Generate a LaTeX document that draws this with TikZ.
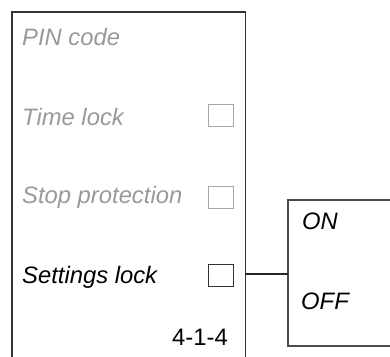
\documentclass[tikz,border=0pt]{standalone}
\usepackage{fontspec}
\setmainfont{Liberation Sans}
\begin{document}
\begin{tikzpicture}[x=1pt,y=-1pt,
  lbl/.style={anchor=base west,inner sep=0pt,font=\fontsize{23.8}{27}\selectfont\itshape},
  dim/.style={text=black!40},
  chk/.style={draw=black!35,line width=1.3pt,minimum width=25pt,minimum height=22pt,inner sep=0pt,anchor=north west},
  frame/.style={draw=black!80,line width=1.5pt},
  thinframe/.style={draw=black!70,line width=1.2pt}]
\useasboundingbox (0,0) rectangle (390,356);
\draw[frame] (12,357) -- (12,12) -- (245.5,12) -- (245.5,357);
\draw[thinframe] (391,200) -- (288,200) -- (288,346) -- (391,346);
\node[lbl,dim] (pin) at (22,45) {PIN code};
\node[lbl,dim] (time) at (22,125) {Time lock};
\node[lbl,dim] (stop) at (22,203) {Stop protection};
\node[lbl] (set) at (22,283) {Settings lock};
\node[anchor=base east,inner sep=0pt,font=\fontsize{23.8}{27}\selectfont] (num) at (228,345) {4-1-4};
\node[chk] (c1) at (208,104) {};
\node[chk] (c2) at (208,186) {};
\node[chk,draw=black!80] (c3) at (208,264) {};
\node[lbl] (on) at (302,229.5) {ON};
\node[lbl] (off) at (301,309.5) {OFF};
\coordinate (pr) at (245.5,274);
\coordinate (bl) at (288,274);
\draw[draw=black!85,line width=1.2pt] (pr) -- (bl);
\end{tikzpicture}
\end{document}
